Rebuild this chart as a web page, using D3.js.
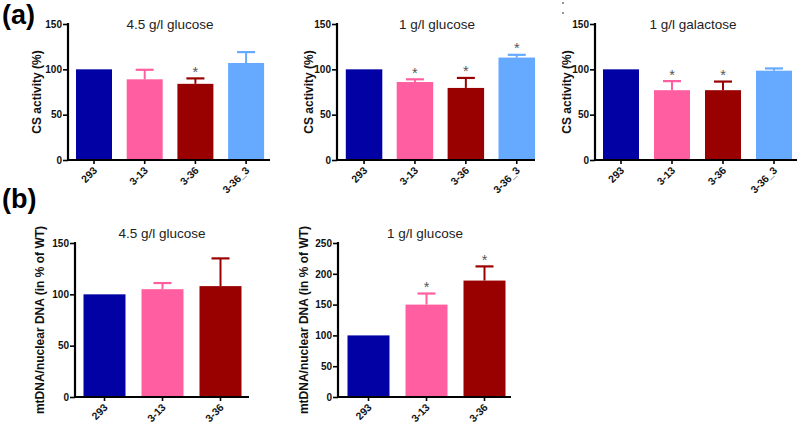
<!DOCTYPE html>
<html><head><meta charset="utf-8">
<script src="https://cdn.jsdelivr.net/npm/d3@7"></script>
<style>body{margin:0;background:#fff}svg{display:block;font-family:"Liberation Sans",Arial,sans-serif}</style>
</head><body><svg id="c" width="800" height="427"></svg>
<script>
// ---- data ----
const catsA = ["293", "3-13", "3-36", "3-36_3"];
const catsB = ["293", "3-13", "3-36"];
const colorsA = ["#0202A4", "#FF5FA0", "#990000", "#66AAFF"];

const csGlc45 = [100, 89, 84, 107];
const csGlc45Err = [0, 10.5, 6, 12];
const csGlc45Sig = [false, false, true, false];

const csGlc1 = [100, 86, 79.5, 113];
const csGlc1Err = [0, 3, 11, 3];
const csGlc1Sig = [false, true, true, true];

const csGal1 = [100, 77, 77, 98.5];
const csGal1Err = [0, 10, 9.5, 2.5];
const csGal1Sig = [false, true, true, false];

const mtGlc45 = [100, 105, 108];
const mtGlc45Err = [0, 6, 27];
const mtGlc45Sig = [false, false, false];

const mtGlc1 = [100, 150, 189];
const mtGlc1Err = [0, 18, 23];
const mtGlc1Sig = [false, true, true];

const ticksCS = [0, 50, 100, 150];
const ticksMt45 = [0, 50, 100, 150];
const ticksMt1 = [0, 50, 100, 150, 200, 250];

const titles = ["4.5 g/l glucose", "1 g/l glucose", "1 g/l galactose", "4.5 g/l glucose", "1 g/l glucose"];
const yLabelCS = "CS activity (%)";
const yLabelMt = "mtDNA/nuclear DNA (in % of WT)";

// ---- layout ----
const svg = d3.select("#c");
const panels = [
  {cats: catsA, vals: csGlc45, err: csGlc45Err, sig: csGlc45Sig, ticks: ticksCS, title: titles[0], ylab: yLabelCS,
   x0: 68, first: 76, step: 50.7, bw: 36, xEnd: 270, yTop: 24, yBot: 160, titleX: 170, titleY: 29, labX: 37},
  {cats: catsA, vals: csGlc1, err: csGlc1Err, sig: csGlc1Sig, ticks: ticksCS, title: titles[1], ylab: yLabelCS,
   x0: 337, first: 346, step: 50.9, bw: 36.5, xEnd: 535, yTop: 24, yBot: 160, titleX: 437, titleY: 29, labX: 309},
  {cats: catsA, vals: csGal1, err: csGal1Err, sig: csGal1Sig, ticks: ticksCS, title: titles[2], ylab: yLabelCS,
   x0: 595, first: 603, step: 51, bw: 36, xEnd: 797, yTop: 24, yBot: 160, titleX: 693, titleY: 29, labX: 567},
  {cats: catsB, vals: mtGlc45, err: mtGlc45Err, sig: mtGlc45Sig, ticks: ticksMt45, title: titles[3], ylab: yLabelMt,
   x0: 75, first: 83.5, step: 58, bw: 42, xEnd: 249, yTop: 243, yBot: 397, titleX: 162, titleY: 238, labX: 40},
  {cats: catsB, vals: mtGlc1, err: mtGlc1Err, sig: mtGlc1Sig, ticks: ticksMt1, title: titles[4], ylab: yLabelMt,
   x0: 338, first: 347.5, step: 58, bw: 42, xEnd: 511, yTop: 243, yBot: 397, titleX: 425, titleY: 238, labX: 304}
];

panels.forEach(p => {
  const n = p.cats.length;
  const pi = 1 - p.bw / p.step;
  const po = ((p.xEnd - p.x0) / p.step - n + pi) / 2;
  const al = (p.first - p.x0) / (p.step * 2 * po);
  const x = d3.scaleBand().domain(p.cats).range([p.x0, p.xEnd])
    .paddingInner(pi).paddingOuter(po).align(al);
  const ymax = p.ticks[p.ticks.length - 1];
  const y = d3.scaleLinear().domain([0, ymax]).range([p.yBot, p.yTop]);
  const g = svg.append("g");

  // bars
  g.selectAll("rect.bar").data(p.vals).join("rect")
    .attr("x", (d, i) => x(p.cats[i])).attr("width", x.bandwidth())
    .attr("y", d => y(d)).attr("height", d => y(0) - y(d))
    .attr("fill", (d, i) => colorsA[i]);

  // error bars
  const cap = 18;
  p.vals.forEach((v, i) => {
    if (!p.err[i]) return;
    const cx = x(p.cats[i]) + x.bandwidth() / 2;
    g.append("line").attr("x1", cx).attr("x2", cx).attr("y1", y(v)).attr("y2", y(v + p.err[i]))
      .attr("stroke", colorsA[i]).attr("stroke-width", 2);
    g.append("line").attr("x1", cx - cap / 2).attr("x2", cx + cap / 2)
      .attr("y1", y(v + p.err[i])).attr("y2", y(v + p.err[i]))
      .attr("stroke", colorsA[i]).attr("stroke-width", 2.2);
    if (p.sig[i]) {
      g.append("text").attr("x", cx).attr("y", y(v + p.err[i]) - 1.5)
        .attr("text-anchor", "middle").attr("font-size", 14.5).attr("fill", "#555").text("*");
    }
  });

  // y axis
  const ya = g.append("g").attr("transform", `translate(${p.x0},0)`)
    .call(d3.axisLeft(y).tickValues(p.ticks).tickSize(5).tickPadding(1).tickSizeOuter(0));
  ya.select(".domain").attr("stroke-width", 2.2).attr("d", `M0,${p.yBot}V${p.yTop - 1}`);
  ya.selectAll(".tick line").attr("stroke-width", 1.6);
  ya.selectAll(".tick text").attr("font-size", 10).attr("font-weight", "bold")
    .attr("font-family", "Liberation Sans, Arial, sans-serif").attr("fill", "#111");

  // x axis
  const xa = g.append("g").attr("transform", `translate(0,${p.yBot})`)
    .call(d3.axisBottom(x).tickSize(4).tickSizeOuter(0));
  xa.select(".domain").attr("stroke-width", 2.2).attr("d", `M${p.x0 - 1},0H${p.xEnd}`);
  xa.selectAll(".tick line").attr("stroke-width", 1.6);
  xa.selectAll(".tick text").attr("font-size", 10.5).attr("font-weight", "bold")
    .attr("font-family", "Liberation Sans, Arial, sans-serif").attr("fill", "#111")
    .attr("text-anchor", "end").attr("dy", null).attr("y", null)
    .attr("transform", "translate(4,11) rotate(-45)");

  // title
  g.append("text").attr("x", p.titleX).attr("y", p.titleY).attr("text-anchor", "middle")
    .attr("font-size", 13.5).attr("fill", "#222").text(p.title);
  // y label
  g.append("text").attr("transform", `translate(${p.labX},${(p.yTop + p.yBot) / 2}) rotate(-90)`)
    .attr("text-anchor", "middle").attr("dy", "0.35em").attr("font-size", 12).attr("font-weight", "bold")
    .attr("fill", "#111").text(p.ylab);
});

// panel letters
svg.append("text").attr("x", 2).attr("y", 24).attr("font-size", 27).attr("font-weight", "bold").text("(a)");
svg.append("text").attr("x", 2).attr("y", 208).attr("font-size", 27).attr("font-weight", "bold").text("(b)");
// small artefact marks
svg.append("circle").attr("cx", 563).attr("cy", 3).attr("r", 0.9).attr("fill", "#666");
svg.append("circle").attr("cx", 563).attr("cy", 13).attr("r", 0.9).attr("fill", "#666");
</script></body></html>
